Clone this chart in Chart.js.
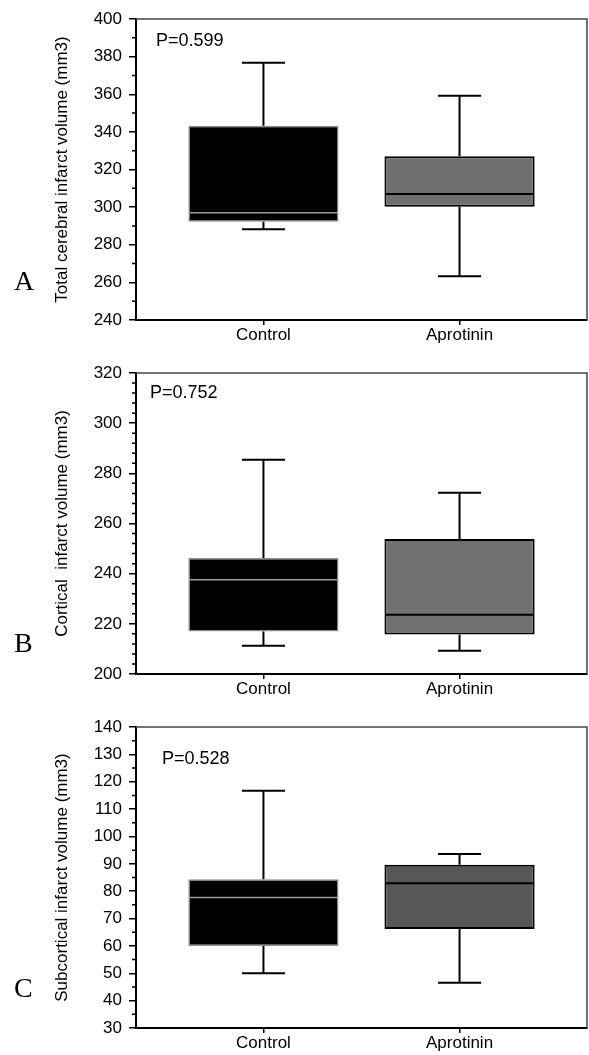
<!DOCTYPE html>
<html>
<head>
<meta charset="utf-8">
<script src="https://cdn.jsdelivr.net/npm/chart.js@4"></script>
<style>
  html, body { margin: 0; padding: 0; background: #fff; }
  #wrap { position: relative; width: 589px; height: 1055px; overflow: hidden; background: #fff; }
  canvas { position: absolute; left: 0; }
</style>
</head>
<body>
<div id="wrap">
  <canvas id="cA" width="589" height="352" style="top:0px"></canvas>
  <canvas id="cB" width="589" height="352" style="top:352px"></canvas>
  <canvas id="cC" width="589" height="351" style="top:704px"></canvas>
</div>
<script>
// ---------- data ----------
const categories = ['Control', 'Aprotinin'];
const panelLetters = ['A', 'B', 'C'];
const yTitles = ['Total cerebral infarct volume (mm3)', 'Cortical  infarct volume (mm3)', 'Subcortical infarct volume (mm3)'];
const pLabels = ['P=0.599', 'P=0.752', 'P=0.528'];

// Panel A: total cerebral infarct volume
const totalMin    = [288.3, 263.3];
const totalQ1     = [292.2, 300.2];
const totalMedian = [297.0, 307.0];
const totalQ3     = [343.3, 327.0];
const totalMax    = [376.8, 359.2];

// Panel B: cortical infarct volume
const corticalMin    = [211.3, 209.3];
const corticalQ1     = [216.9, 215.7];
const corticalMedian = [237.6, 223.6];
const corticalQ3     = [246.2, 253.8];
const corticalMax    = [285.4, 272.3];

// Panel C: subcortical infarct volume
const subMin    = [50.0, 46.5];
const subQ1     = [60.0, 66.2];
const subMedian = [77.7, 82.9];
const subQ3     = [84.4, 89.7];
const subMax    = [116.7, 93.6];

// axis ranges / tick steps
const yMinA = 240, yMaxA = 400, yStepA = 20, yMinorA = 10;
const yMinB = 200, yMaxB = 320, yStepB = 20, yMinorB = 4;
const yMinC = 30,  yMaxC = 140, yStepC = 10, yMinorC = 5;

// ---------- styling / layout ----------
const FONT = "'Liberation Sans', Arial, sans-serif";
const SERIF = "'Liberation Serif', 'Times New Roman', serif";
const layouts = [
  { id: 'cA', padTop: 19, xAxisH: 32, pDx: 20, pDy: 22, letterBase: 290, aprFill: '#6f6f6f' },
  { id: 'cB', padTop: 21, xAxisH: 30, pDx: 14, pDy: 20, letterBase: 300, aprFill: '#717171' },
  { id: 'cC', padTop: 23, xAxisH: 27, pDx: 26, pDy: 32, letterBase: 293, aprFill: '#575757' }
];
const panels = [
  { min: totalMin, q1: totalQ1, med: totalMedian, q3: totalQ3, max: totalMax, yMin: yMinA, yMax: yMaxA, step: yStepA, minor: yMinorA },
  { min: corticalMin, q1: corticalQ1, med: corticalMedian, q3: corticalQ3, max: corticalMax, yMin: yMinB, yMax: yMaxB, step: yStepB, minor: yMinorB },
  { min: subMin, q1: subQ1, med: subMedian, q3: subQ3, max: subMax, yMin: yMinC, yMax: yMaxC, step: yStepC, minor: yMinorC }
];

const CAP_FRACTION = 0.22;   // whisker cap width, in category units
const BOX_FRACTION = 0.766;  // box width, in category units

const boxPlugin = {
  id: 'boxExtras',
  afterDatasetsDraw(chart, args, opts) {
    const { ctx, chartArea, scales } = chart;
    const xs = scales.x, ys = scales.y;
    const p = opts.panel;
    ctx.save();
    // whiskers + caps
    ctx.strokeStyle = '#000';
    ctx.lineWidth = 2;
    categories.forEach((c, i) => {
      const xc = xs.getPixelForValue(i + 1);
      const half = (xs.getPixelForValue(i + 1 + CAP_FRACTION / 2) - xc);
      const yMax = ys.getPixelForValue(p.max[i]);
      const yQ3 = ys.getPixelForValue(p.q3[i]);
      const yQ1 = ys.getPixelForValue(p.q1[i]);
      const yMinP = ys.getPixelForValue(p.min[i]);
      ctx.beginPath();
      ctx.moveTo(xc, yQ3); ctx.lineTo(xc, yMax);
      ctx.moveTo(xc - half, yMax); ctx.lineTo(xc + half, yMax);
      ctx.moveTo(xc, yQ1); ctx.lineTo(xc, yMinP);
      ctx.moveTo(xc - half, yMinP); ctx.lineTo(xc + half, yMinP);
      ctx.stroke();
    });
    // medians
    const meta = chart.getDatasetMeta(0);
    meta.data.forEach((bar, i) => {
      const w = bar.width;
      const ym = ys.getPixelForValue(p.med[i]);
      ctx.beginPath();
      ctx.strokeStyle = i === 0 ? '#9a9a9a' : '#000';
      ctx.lineWidth = i === 0 ? 1.5 : 2;
      ctx.moveTo(bar.x - w / 2 + 1, ym);
      ctx.lineTo(bar.x + w / 2 - 1, ym);
      ctx.stroke();
    });
    // frame (top + right)
    ctx.strokeStyle = '#444';
    ctx.lineWidth = 1.5;
    ctx.beginPath();
    ctx.moveTo(chartArea.left, chartArea.top);
    ctx.lineTo(chartArea.right, chartArea.top);
    ctx.lineTo(chartArea.right, chartArea.bottom);
    ctx.stroke();
    // minor y ticks
    ctx.strokeStyle = '#000';
    ctx.lineWidth = 1.5;
    ctx.beginPath();
    for (let v = p.yMin; v <= p.yMax + 1e-9; v += p.minor) {
      if (Math.abs((v - p.yMin) / p.step - Math.round((v - p.yMin) / p.step)) < 1e-6) continue;
      const y = ys.getPixelForValue(v);
      ctx.moveTo(chartArea.left - 4, y);
      ctx.lineTo(chartArea.left, y);
    }
    ctx.stroke();
    // P value
    ctx.fillStyle = '#000';
    ctx.font = '18px ' + FONT;
    ctx.textBaseline = 'middle';
    ctx.textAlign = 'left';
    ctx.fillText(opts.pText, chartArea.left + opts.pDx, chartArea.top + opts.pDy);
    // panel letter
    ctx.font = '28px ' + SERIF;
    ctx.textBaseline = 'alphabetic';
    ctx.fillText(opts.letter, 14, opts.letterBase);
    ctx.restore();
  }
};

panels.forEach((p, k) => {
  const L = layouts[k];
  const data = categories.map((c, i) => ({ x: i + 1, y: [p.q1[i], p.q3[i]] }));
  new Chart(document.getElementById(L.id), {
    type: 'bar',
    data: {
      datasets: [{
        data: data,
        backgroundColor: ['#000000', L.aprFill],
        borderColor: ['#8c8c8c', '#000000'],
        borderWidth: [1.5, 2],
        borderSkipped: false,
        categoryPercentage: 1,
        barPercentage: BOX_FRACTION
      }]
    },
    options: {
      responsive: false,
      animation: false,
      devicePixelRatio: 1,
      layout: { padding: { top: L.padTop, right: 2, left: 0, bottom: 0 } },
      plugins: {
        legend: { display: false },
        tooltip: { enabled: false },
        boxExtras: { panel: p, pText: pLabels[k], pDx: L.pDx, pDy: L.pDy, letter: panelLetters[k], letterBase: L.letterBase }
      },
      scales: {
        x: {
          type: 'linear',
          min: 0.35,
          max: 2.65,
          offset: false,
          afterBuildTicks: (scale) => { scale.ticks = categories.map((c, i) => ({ value: i + 1 })); },
          afterFit: (scale) => { scale.height = L.xAxisH; },
          ticks: {
            callback: (v) => categories[Math.round(v) - 1] || '',
            color: '#000',
            font: { family: FONT, size: 17 },
            padding: 0,
            maxRotation: 0,
            autoSkip: false
          },
          grid: { display: true, drawOnChartArea: false, drawTicks: true, tickLength: 5, color: '#000', lineWidth: 1.5, offset: false },
          border: { display: true, color: '#000', width: 2 }
        },
        y: {
          type: 'linear',
          min: p.yMin,
          max: p.yMax,
          beginAtZero: false,
          afterFit: (scale) => { scale.width = 136; },
          ticks: {
            stepSize: p.step,
            color: '#000',
            font: { family: FONT, size: 17 },
            padding: 7
          },
          grid: { display: true, drawOnChartArea: false, drawTicks: true, tickLength: 7, color: '#000', lineWidth: 1.5 },
          border: { display: true, color: '#000', width: 2 },
          title: {
            display: true,
            text: yTitles[k],
            color: '#000',
            font: { family: FONT, size: 17 },
            padding: { top: 52, bottom: 0 }
          }
        }
      }
    },
    plugins: [boxPlugin]
  });
});
</script>
</body>
</html>
